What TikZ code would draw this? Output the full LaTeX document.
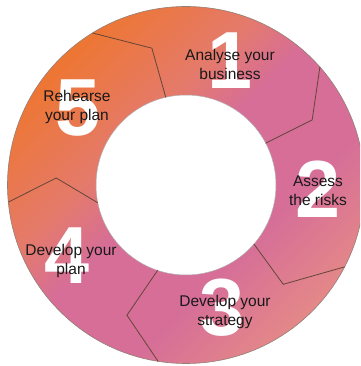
\documentclass[tikz,border=0pt]{standalone}
\usepackage{fontspec}
\setmainfont{Liberation Sans}
\usepackage{xcolor}
\usepackage{tikz}
\usetikzlibrary{positioning}

\definecolor{ringorange}{RGB}{238,118,50}
\definecolor{ringmix}{RGB}{228,122,108}
\definecolor{ringpink}{RGB}{214,110,152}
\definecolor{ringsalmon}{RGB}{228,136,136}
\definecolor{ringedge}{RGB}{100,70,55}
\pgfdeclarehorizontalshading{ringfill}{100bp}{color(0bp)=(ringorange); color(25bp)=(ringorange);
  color(40bp)=(ringmix); color(48bp)=(ringpink); color(62bp)=(ringpink);
  color(75bp)=(ringsalmon); color(100bp)=(ringsalmon)}

\begin{document}
\begin{tikzpicture}
      [ x=1pt, y=1pt,
        ringline/.style={draw=ringedge, line width=0.8pt},
        stepno/.style={text=white, font=\fontsize{81}{81}\selectfont\bfseries, inner sep=0pt},
        steptext/.style={text=black!90, align=center, inner sep=0pt,
                         font=\fontsize{15.5}{19}\selectfont}
      ]
      \useasboundingbox (0,0) rectangle (360,366);
      \clip (0,0) rectangle (360,366);
      \coordinate (c) at (186,181);

      % the ring
      \shade[shading=ringfill, shading angle=-45, even odd rule]
            (c) circle[radius=178.5] (c) circle[radius=90];
      \draw[draw=ringedge!70, line width=0.6pt] (c) circle[radius=178.5];
      \draw[draw=gray!60, line width=0.5pt] (c) circle[radius=90];

      % borders between the steps
      \begin{scope}[shift={(c)}]
        \draw[ringline] (103:90)    -- (104:141)    -- (121.6:178.5);
        \draw[ringline] (27.7:90)   -- (27.3:142)   -- (41.4:178.5);
        \draw[ringline] (-41:90)    -- (-45.6:139)  -- (-27.3:178.5);
        \draw[ringline] (-108.4:90) -- (-114.4:143) -- (-99:178.5);
        \draw[ringline] (191.4:90)  -- (176.9:130)  -- (185.5:178.5);
      \end{scope}

      % big numbers
      \node[stepno] (no1) at (230,305) {1};
      \node[stepno] (no2) at (318,177) {2};
      \node[stepno] (no3) at (222,58)  {3};
      \node[stepno] (no4) at (67,110)  {4};
      \node[stepno] (no5) at (78,258)  {5};

      % step labels
      \node[steptext] (analyse)  at (230,302) {Analyse your\\business};
      \node[steptext] (assess)   at (318,175) {Assess\\the risks};
      \node[steptext] (strategy) at (225,54)  {Develop your\\strategy};
      \node[steptext] (plan)     at (71,105)  {Develop your\\plan};
      \node[steptext] (rehearse) at (77,259)  {Rehearse\\your plan};
\end{tikzpicture}
\end{document}
